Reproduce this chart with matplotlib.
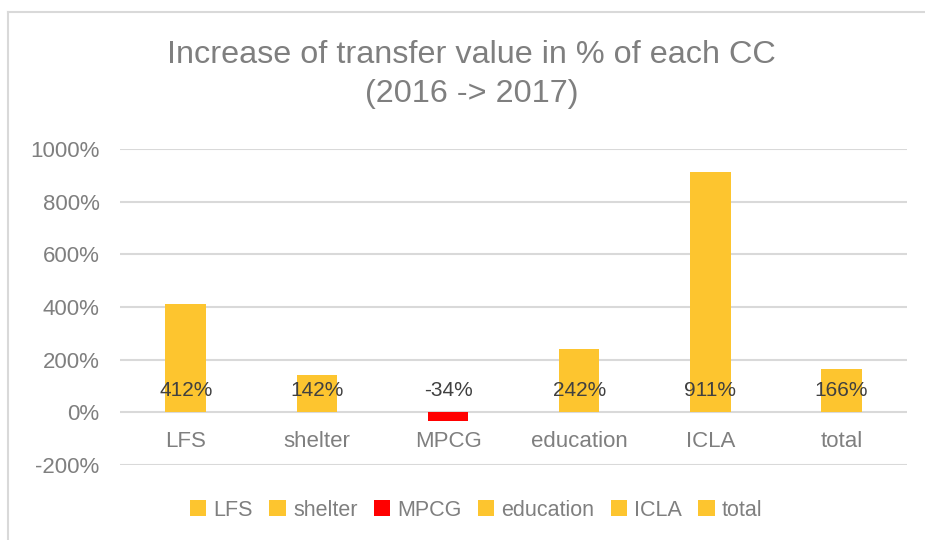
import matplotlib.pyplot as plt
from matplotlib.lines import Line2D

# Data
categories = ["LFS", "shelter", "MPCG", "education", "ICLA", "total"]
increase_pct = [412, 142, -34, 242, 911, 166]
bar_colors = ["#FDC52F", "#FDC52F", "#FF0000", "#FDC52F", "#FDC52F", "#FDC52F"]
y_ticks = [-200, 0, 200, 400, 600, 800, 1000]

plt.rcParams["font.family"] = ["Liberation Sans", "DejaVu Sans"]

fig = plt.figure(figsize=(9.25, 5.4), dpi=100)
ax = fig.add_axes([0.130, 0.139, 0.8505, 0.585])

# Chart border (only top and left edges are inside the picture)
top_y = 1 - 12 / 540
left_x = 8 / 925
fig.add_artist(Line2D([left_x, 1.0], [top_y, top_y], transform=fig.transFigure,
                      color="#d9d9d9", linewidth=1.5))
fig.add_artist(Line2D([left_x, left_x], [0.0, top_y], transform=fig.transFigure,
                      color="#d9d9d9", linewidth=1.5))

for i, (cat, val, col) in enumerate(zip(categories, increase_pct, bar_colors)):
    ax.bar(i, val, width=0.31, color=col, label=cat, zorder=3)
    ax.annotate(str(val) + "%", (i, 0), xytext=(0, 16), textcoords="offset points",
                ha="center", va="center", fontsize=15, color="#404040", zorder=4)

# Axes look
ax.set_xlim(-0.5, len(categories) - 0.5)
ax.set_ylim(-200, 1000)
ax.set_yticks(y_ticks)
ax.set_yticklabels([str(t) + "%" for t in y_ticks])
ax.set_xticks([])
for i, cat in enumerate(categories):
    ax.text(i, -112, cat, ha="center", va="center", fontsize=16, color="#7f7f7f")
ax.tick_params(axis="y", length=0, labelsize=16, labelcolor="#7f7f7f", pad=15)
ax.grid(axis="y", color="#d9d9d9", linewidth=1.5, zorder=0)
for s in ax.spines.values():
    s.set_visible(False)

fig.text(0.510, 0.862, "Increase of transfer value in % of each CC\n(2016 -> 2017)",
         ha="center", va="center", fontsize=23.3, color="#7f7f7f", linespacing=1.4)

fig.legend(loc="center", bbox_to_anchor=(0.515, 0.055), ncol=6, frameon=False,
           fontsize=15.5, labelcolor="#7f7f7f", handlelength=0.75, handleheight=0.75,
           handletextpad=0.35, columnspacing=0.75)

fig.savefig("out.png", dpi=100)
